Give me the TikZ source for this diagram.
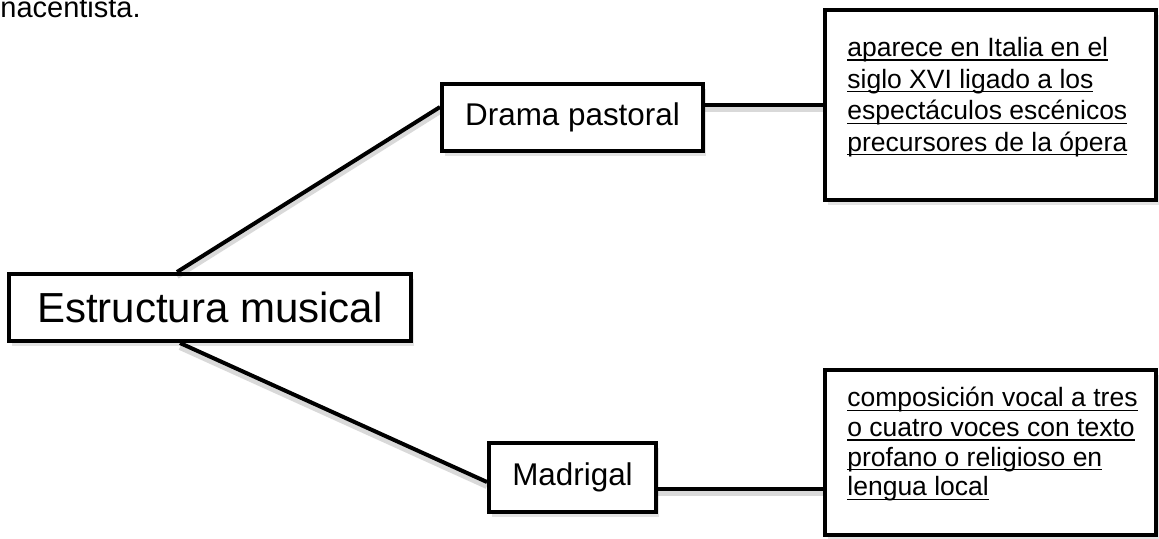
\documentclass[tikz,border=0pt]{standalone}
\usepackage{fontspec}
\setmainfont{Liberation Sans}
\usetikzlibrary{shadows}
\newcommand{\subrayado}[1]{\setbox0\hbox{#1}\rlap{\rule[-2.1pt]{\wd0}{0.65pt}}\box0}

\tikzset{
  caja/.style={draw, line width=2pt, fill=white, inner sep=0pt,
    drop shadow={opacity=0.22, shadow xshift=1.5pt, shadow yshift=-2.5pt}},
  nota/.style={anchor=north west, inner sep=0pt, align=left},
  enlace/.style={line width=2pt,
    preaction={draw, black, opacity=0.15, line width=3pt, transform canvas={yshift=-2pt}}},
}

\begin{document}
\begin{tikzpicture}[x=0.5pt,y=-0.5pt]
	\useasboundingbox (0,0) rectangle (1159,538);
	\node[anchor=base west, inner sep=0pt, font=\fontsize{14.5}{17}\selectfont] (cabecera) at (0,17) {nacentista.};
	% cajas
	\node[caja, minimum width=201pt, minimum height=33.5pt, font=\fontsize{21}{25}\selectfont] (estructura) at (210,307.5) {Estructura musical};
	\node[caja, minimum width=130.5pt, minimum height=33.5pt, font=\fontsize{15.7}{18}\selectfont] (drama) at (572.5,117.5) {Drama pastoral};
	\node[caja, minimum width=83.5pt, minimum height=34.5pt, font=\fontsize{15.7}{18}\selectfont] (madrigal) at (572.5,477.5) {Madrigal};
	\node[caja, minimum width=165.5pt, minimum height=95pt] (arriba) at (990.5,105) {};
	\node[caja, minimum width=165.5pt, minimum height=82.5pt] (abajo) at (990.5,452.5) {};
	% textos
	\node[nota, font=\fontsize{13.25}{15.8}\selectfont] (arribatxt) at (847,36) {\rule{0pt}{10pt}\subrayado{aparece en Italia en el}\\
		\subrayado{siglo XVI ligado a los}\\
		\subrayado{espectáculos escénicos}\\
		\subrayado{precursores de la ópera}};
	\node[nota, font=\fontsize{13.25}{14.8}\selectfont] (abajotxt) at (847,386.5) {\rule{0pt}{10pt}\subrayado{composición vocal a tres}\\
		\subrayado{o cuatro voces con texto}\\
		\subrayado{profano o religioso en}\\
		\subrayado{lengua local}};
	% enlaces
	\draw[enlace] ([xshift=-16.5pt]estructura.north) -- ([yshift=5.25pt]drama.west);
	\draw[enlace] ([xshift=-15pt]estructura.south) -- ([yshift=-2.25pt]madrigal.west);
	\draw[enlace] (drama.east |- arriba.west) -- (arriba.west);
	\draw[enlace] ([yshift=-5.5pt]madrigal.east) -- ([yshift=-5.5pt]madrigal.east -| abajo.west);
\end{tikzpicture}
\end{document}
